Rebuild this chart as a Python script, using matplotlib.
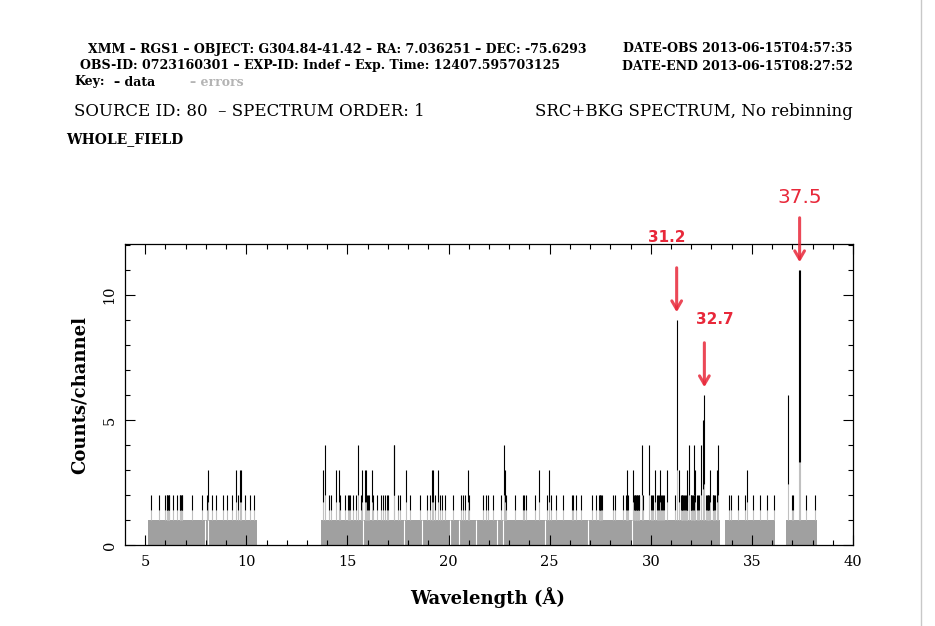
import numpy as np
import matplotlib
matplotlib.use("Agg")
from matplotlib import pyplot as plt
from matplotlib.lines import Line2D

# RGS1 source+background spectrum, counts per channel
# detector coverage where the background gives about 1 count/channel
seg_lo = [5.15, 13.70, 33.67, 36.69]
seg_hi = [10.54, 33.42, 36.14, 38.20]
base_cts = [1, 1, 1, 1]

# empty channels inside the coverage (white gaps)
gap_wl = [7.97, 8.12, 15.79, 17.82, 18.71, 20.08, 20.52, 21.35,
          22.38, 22.71, 24.77, 26.91, 29.06]

# channels above the background level
wl_2 = [5.30, 5.69, 5.99, 6.07, 6.10, 6.14, 6.17, 6.20, 6.35, 6.57, 6.70, 6.73,
        6.76, 6.80, 6.83, 7.32, 7.83, 8.05, 8.30, 8.49, 8.86, 9.04, 9.29, 9.61,
        9.94, 10.16, 10.40,
        14.11, 14.21, 14.65, 14.90, 15.05, 15.10, 15.15, 15.27, 15.40, 15.69,
        15.96, 16.02, 16.09, 16.24, 16.45, 16.68, 16.78, 16.88, 16.95, 17.01,
        17.52, 17.62, 18.11, 18.61, 18.91, 19.10, 19.35, 19.60, 19.70, 19.81,
        20.21, 20.64, 20.73, 20.83, 21.03,
        21.69, 21.84, 21.97, 22.22, 22.58, 22.85, 23.29, 23.67, 23.75, 23.85,
        24.28, 24.86, 25.05, 25.33, 25.68, 26.09, 26.17, 26.31, 26.57, 27.08,
        27.31, 27.44, 27.47, 27.51, 27.54, 27.57, 28.12, 28.23, 28.61, 28.76,
        28.83, 28.89, 29.17, 29.20, 29.24, 29.27, 29.31, 29.34, 29.37, 29.40,
        29.43, 29.60,
        30.01, 30.05, 30.10, 30.32, 30.36, 30.41, 30.50, 30.54, 30.60, 30.66,
        31.20, 31.48, 31.52, 31.56, 31.60, 31.64, 31.68, 31.73, 31.77, 31.81,
        31.97, 32.00, 32.05, 32.10, 32.14, 32.30, 32.35, 32.39, 32.73, 32.77,
        32.81, 32.85, 32.89, 33.06, 33.10, 33.14, 33.18,
        33.88, 33.97, 34.33, 34.66, 35.07, 35.40, 35.73, 36.09, 36.97, 37.05,
        37.66, 38.12]
wl_3 = [8.08, 9.48, 9.70, 9.76, 13.81, 14.41, 14.56, 15.74, 15.89, 15.94,
        16.19, 17.91, 19.20, 19.25, 19.50, 20.98, 22.80, 24.46, 24.99, 28.84,
        29.14, 30.21, 30.46, 30.79, 31.41, 31.78, 32.19, 32.93, 33.26, 34.74]
wl_big = [13.91, 15.50, 17.28, 17.30, 22.76, 29.55, 29.93, 31.90, 32.15,
          32.48, 33.34, 32.60, 32.65, 36.80, 31.28, 37.35, 37.37]
cts_big = [4, 4, 4, 4, 4, 4, 4, 4, 4, 4, 4, 5, 6, 6, 9, 11, 11]

# marked lines
mark_lbl = ['31.2', '32.7', '37.5']
mark_wl = [31.28, 32.65, 37.36]
mark_cts = [9, 6, 11]

spike_wl = np.array(wl_2 + wl_3 + wl_big)
spike_cts = np.array([2] * len(wl_2) + [3] * len(wl_3) + cts_big, dtype=float)
spike_err = np.sqrt(spike_cts)

red = '#e8283a'
serif = 'DejaVu Serif'

fig = plt.figure(figsize=(9.35, 6.26), dpi=100)
ax = fig.add_axes([125 / 935, 1 - 545 / 626, 728 / 935, 301 / 626])

# background level, empty channels, then the counts with their error part
ax.bar(seg_lo, base_cts, width=np.subtract(seg_hi, seg_lo), align='edge',
       color='#a0a0a0', linewidth=0)
ax.vlines(gap_wl, 0, 1, color='white', lw=0.8)
ax.vlines(spike_wl, 1, spike_err, color='#c0c0c0', lw=0.8)
ax.vlines(spike_wl, spike_err, spike_cts, color='black', lw=0.8)

ax.set_xlim(4.0, 40.0)
ax.set_ylim(0, 12.04)
ax.set_xticks([5, 10, 15, 20, 25, 30, 35, 40])
ax.set_xticks(np.arange(5, 40), minor=True)
ax.set_yticks([0, 5, 10])
ax.set_yticks(np.arange(0, 13), minor=True)
ax.tick_params(which='both', direction='in', top=True, right=True,
               width=0.8, labelsize=10.5)
ax.tick_params(which='major', length=7)
ax.tick_params(which='minor', length=3.5)
ax.tick_params(axis='x', pad=7)
ax.tick_params(axis='y', pad=6)
for lab in ax.get_xticklabels() + ax.get_yticklabels():
    lab.set_family(serif)
plt.setp(ax.get_yticklabels(), rotation=90, va='center')
for sp in ax.spines.values():
    sp.set_linewidth(0.9)

# line markers
for lbl, w, c in zip(mark_lbl, mark_wl, mark_cts):
    ax.annotate('', xy=(w, c + 0.2), xytext=(w, c + 2.2),
                arrowprops=dict(arrowstyle='->,head_width=0.35,head_length=0.6',
                                color=red, lw=2.2, alpha=0.85),
                annotation_clip=False)
ax.text(mark_wl[0] - 0.47, mark_cts[0] + 3.28, mark_lbl[0], color=red,
        fontsize=11, fontweight='bold', ha='center', va='center', clip_on=False)
ax.text(mark_wl[1] + 0.53, mark_cts[1] + 3.0, mark_lbl[1], color=red,
        fontsize=11, fontweight='bold', ha='center', va='center', clip_on=False)
ax.text(mark_wl[2] + 0.02, mark_cts[2] + 2.9, mark_lbl[2], color=red,
        fontsize=14.5, ha='center', va='center', clip_on=False)

# axis labels
fig.text(80 / 935, 1 - 395 / 626, 'Counts/channel', rotation=90, family=serif,
         fontweight='bold', fontsize=13, ha='center', va='center')
fig.text(488 / 935, 1 - 598 / 626, 'Wavelength (Å)', family=serif,
         fontweight='bold', fontsize=13, ha='center', va='center')

# header block
hdr = dict(family=serif, fontweight='bold', fontsize=9, va='center')
fig.text(88 / 935, 1 - 49 / 626,
         'XMM – RGS1 – OBJECT: G304.84-41.42 – RA: 7.036251 – DEC: -75.6293', **hdr)
fig.text(80 / 935, 1 - 66 / 626,
         'OBS-ID: 0723160301 – EXP-ID: Indef – Exp. Time: 12407.595703125', **hdr)
fig.text(853 / 935, 1 - 49 / 626, 'DATE-OBS 2013-06-15T04:57:35', ha='right', **hdr)
fig.text(853 / 935, 1 - 66 / 626, 'DATE-END 2013-06-15T08:27:52', ha='right', **hdr)
fig.text(74 / 935, 1 - 82 / 626, 'Key:', **hdr)
fig.text(114 / 935, 1 - 82 / 626, '– data', **hdr)
fig.text(190 / 935, 1 - 82 / 626, '– errors', color='#b4b4b4', **hdr)
fig.text(74 / 935, 1 - 112 / 626, 'SOURCE ID: 80  – SPECTRUM ORDER: 1',
         family=serif, fontsize=12, va='center')
fig.text(853 / 935, 1 - 112 / 626, 'SRC+BKG SPECTRUM, No rebinning',
         family=serif, fontsize=12, va='center', ha='right')
fig.text(66 / 935, 1 - 139 / 626, 'WHOLE_FIELD', family=serif,
         fontweight='bold', fontsize=10, va='center')

# window edge of the original screenshot
fig.add_artist(Line2D([921 / 935, 921 / 935], [0, 1], color='#c8c8c8', lw=1))

fig.savefig('out.png', dpi=100)
